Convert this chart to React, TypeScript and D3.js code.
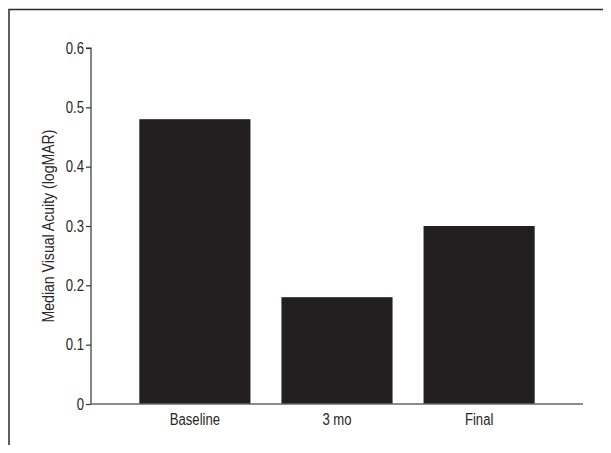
import { useEffect, useRef } from "react";
import * as d3 from "d3";

const categories = ["Baseline", "3 mo", "Final"];
const medianAcuity = [0.48, 0.18, 0.3];
const yTicks = [0, 0.1, 0.2, 0.3, 0.4, 0.5, 0.6];

// condensed look: Liberation Sans squeezed horizontally
const FONT = "'Liberation Sans', Arial, sans-serif";
const SQUEEZE = 0.82;

export default function App() {
  const svgRef = useRef<SVGSVGElement>(null);

  useEffect(() => {
    if (!svgRef.current) return;
    const svg = d3.select(svgRef.current);
    svg.selectAll("*").remove();

    const width = 611;
    const height = 453;
    const left = 91;
    const right = 583;
    const top = 48;
    const bottom = 404;

    // frame (only top and left edges visible in the crop)
    svg
      .append("path")
      .attr("d", `M9,${height}V9.5H${width}`)
      .attr("fill", "none")
      .attr("stroke", "#2b2b2b")
      .attr("stroke-width", 1.5);

    const x = d3
      .scaleBand<string>()
      .domain(categories)
      .range([left, right])
      .paddingInner(0.218)
      .paddingOuter(0.34);

    const y = d3.scaleLinear().domain([0, 0.6]).range([bottom, top]);

    // Bars
    svg
      .append("g")
      .selectAll("rect")
      .data(categories)
      .join("rect")
      .attr("x", (d) => x(d)!)
      .attr("width", x.bandwidth())
      .attr("y", (_, i) => y(medianAcuity[i]))
      .attr("height", (_, i) => bottom - y(medianAcuity[i]))
      .attr("fill", "#231f20");

    // Y axis
    const yAxis = svg
      .append("g")
      .attr("transform", `translate(${left},0)`)
      .call(
        d3
          .axisLeft(y)
          .tickValues(yTicks)
          .tickSize(5)
          .tickPadding(3)
          .tickFormat((d) => (d === 0 ? "0" : d3.format(".1f")(d as number)))
      );
    yAxis.select(".domain").attr("stroke", "#333").attr("stroke-width", 1.2).attr("d", `M-5,${top}H0V${bottom}`);
    yAxis.selectAll(".tick line").attr("stroke", "#333").attr("stroke-width", 1.2);
    yAxis
      .selectAll(".tick text")
      .attr("x", -7 / SQUEEZE)
      .attr("transform", `scale(${SQUEEZE},1)`)
      .attr("fill", "#2a2627")
      .style("font-family", FONT)
      .style("font-size", "16px");

    // X axis
    const xAxis = svg
      .append("g")
      .attr("transform", `translate(0,${bottom})`)
      .call(d3.axisBottom(x).tickSize(0).tickPadding(10));
    xAxis.select(".domain").attr("stroke", "#666").attr("stroke-width", 1.5).attr("d", `M${left},0H${right}`);
    xAxis
      .selectAll(".tick text")
      .attr("transform", `scale(${SQUEEZE},1)`)
      .attr("fill", "#2a2627")
      .style("font-family", FONT)
      .style("font-size", "16px");

    // Y label
    svg
      .append("text")
      .attr("transform", `translate(54,${(top + bottom) / 2}) rotate(-90) scale(0.88,1)`)
      .attr("text-anchor", "middle")
      .attr("fill", "#2a2627")
      .style("font-family", FONT)
      .style("font-size", "16px")
      .text("Median Visual Acuity (logMAR)");
  }, []);

  return (
    <div style={{ margin: -8 }}>
      <svg ref={svgRef} width={611} height={453} style={{ display: "block", background: "#fff" }} />
    </div>
  );
}
